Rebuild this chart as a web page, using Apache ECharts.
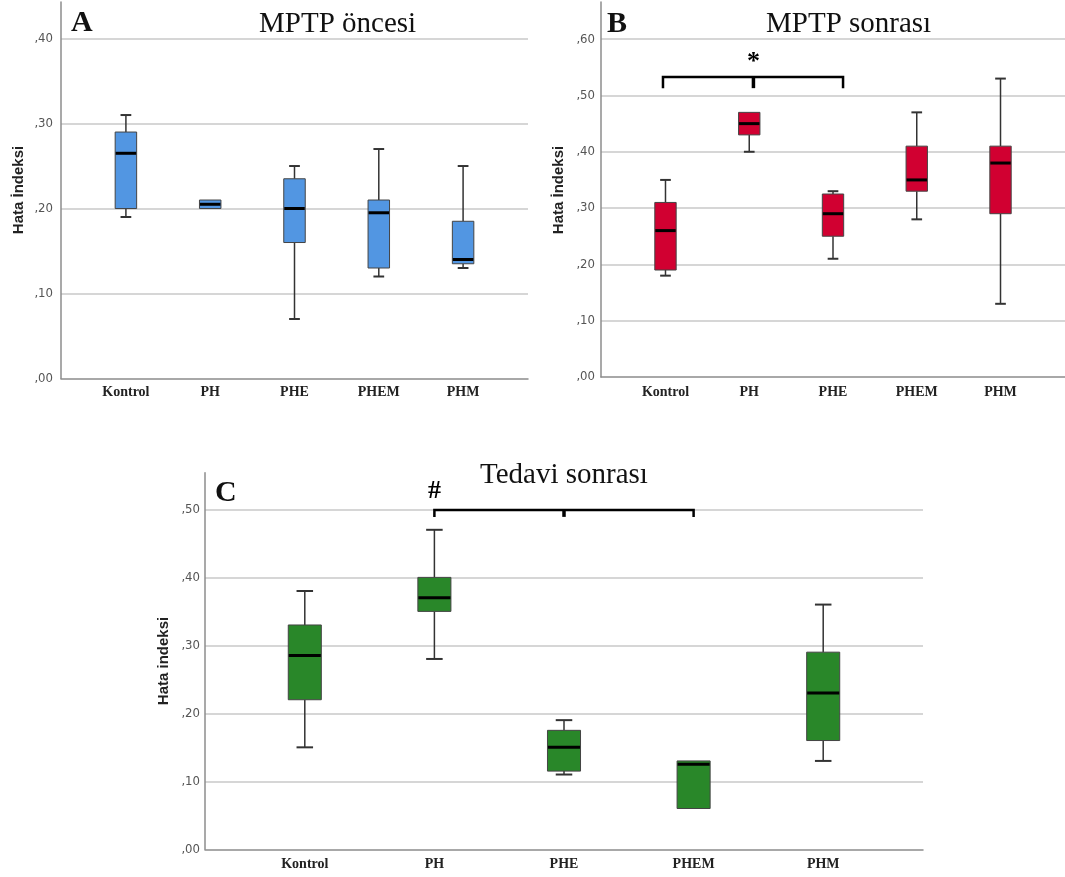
<!DOCTYPE html>
<html>
<head>
<meta charset="utf-8">
<title>Hata İndeksi</title>
<script src="https://cdn.jsdelivr.net/npm/echarts@6/dist/echarts.min.js"></script>
<style>
  html, body { margin: 0; padding: 0; background: #ffffff; }
  #chart { width: 1065px; height: 877px; }
</style>
</head>
<body>
<div id="chart"></div>
<script>
// Groups on the horizontal axis
const categories = ['Kontrol', 'PH', 'PHE', 'PHEM', 'PHM'];

// Box summaries per group: [min, Q1, median, Q3, max]
const mptpOncesi = [
  [0.19, 0.20, 0.265, 0.29, 0.31],
  [0.20, 0.20, 0.205, 0.21, 0.21],
  [0.07, 0.16, 0.20, 0.235, 0.25],
  [0.12, 0.13, 0.195, 0.21, 0.27],
  [0.13, 0.135, 0.14, 0.185, 0.25]
];
const mptpSonrasi = [
  [0.18, 0.19, 0.26, 0.31, 0.35],
  [0.40, 0.43, 0.45, 0.47, 0.47],
  [0.21, 0.25, 0.29, 0.325, 0.33],
  [0.28, 0.33, 0.35, 0.41, 0.47],
  [0.13, 0.29, 0.38, 0.41, 0.53]
];
const tedaviSonrasi = [
  [0.15, 0.22, 0.285, 0.33, 0.38],
  [0.28, 0.35, 0.37, 0.40, 0.47],
  [0.11, 0.115, 0.15, 0.175, 0.19],
  [0.06, 0.06, 0.125, 0.13, 0.13],
  [0.13, 0.16, 0.23, 0.29, 0.36]
];

// Y axis ranges and tick step
const yMaxA = 0.443;
const yMaxB = 0.666;
const yMaxC = 0.554;
const yStep = 0.1;

// Significance brackets: feet/centre x positions, [bar level, foot level], and the symbol
const sigBx = [-0.03, 1.05, 2.12];
const sigBy = [0.533, 0.513];
const sigBmark = ['*', 1.05, 0.559];
const sigCx = [1, 2, 3];
const sigCy = [0.499, 0.489];
const sigCmark = ['#', 1.0, 0.526];

const BOX_W = 0.255;
const SERIF = "'Liberation Serif', 'Times New Roman', serif";
const SANS = "'Liberation Sans', Arial, sans-serif";
const NARROW = "'Liberation Sans Narrow', 'Arial Narrow', 'DejaVu Sans Condensed', sans-serif";

function tickLabel(v) {
  if (Math.abs(v * 10 - Math.round(v * 10)) > 1e-6) return '';
  return ',' + v.toFixed(2).split('.')[1];
}

function makeAxes(idx, yMax, labelMargin, catMargin) {
  const xAxis = {
    type: 'value', gridIndex: idx, min: -0.77, max: 4.77,
    axisLine: { show: true, onZero: false, lineStyle: { color: '#8c8c8c', width: 1.5 } },
    axisTick: { show: false },
    splitLine: { show: false },
    axisLabel: {
      customValues: [0, 1, 2, 3, 4],
      formatter: v => categories[Math.round(v)],
      margin: catMargin,
      fontFamily: SERIF, fontWeight: 'bold', fontSize: 14, color: '#222'
    }
  };
  const yAxis = {
    type: 'value', gridIndex: idx, min: 0, max: yMax, interval: yStep,
    axisLine: { show: true, onZero: false, lineStyle: { color: '#8c8c8c', width: 1.5 } },
    axisTick: { show: false },
    splitLine: { show: true, showMinLine: false, showMaxLine: false,
                 lineStyle: { color: '#d6d6d6', width: 2 } },
    axisLabel: {
      formatter: tickLabel, showMaxLabel: false, margin: labelMargin,
      fontFamily: NARROW, fontSize: 13, color: '#555'
    }
  };
  return [xAxis, yAxis];
}

function boxData(rows) {
  return rows.map((r, i) => [i].concat(r));
}

function renderBox(color) {
  return function (params, api) {
    const x = api.value(0);
    const lo = api.coord([x, api.value(1)]);
    const q1 = api.coord([x, api.value(2)]);
    const md = api.coord([x, api.value(3)]);
    const q3 = api.coord([x, api.value(4)]);
    const hi = api.coord([x, api.value(5)]);
    const w = api.size([BOX_W, 0])[0];
    const cx = lo[0];
    const cap = w / 4;
    const wStyle = { stroke: '#333', lineWidth: 1.5 };
    const children = [];
    if (hi[1] < q3[1] - 0.5) {
      children.push({ type: 'line', shape: { x1: cx, y1: q3[1], x2: cx, y2: hi[1] }, style: wStyle });
      children.push({ type: 'line', shape: { x1: cx - cap, y1: hi[1], x2: cx + cap, y2: hi[1] }, style: { stroke: '#333', lineWidth: 2 } });
    }
    if (lo[1] > q1[1] + 0.5) {
      children.push({ type: 'line', shape: { x1: cx, y1: q1[1], x2: cx, y2: lo[1] }, style: wStyle });
      children.push({ type: 'line', shape: { x1: cx - cap, y1: lo[1], x2: cx + cap, y2: lo[1] }, style: { stroke: '#333', lineWidth: 2 } });
    }
    children.push({
      type: 'rect',
      shape: { x: cx - w / 2, y: q3[1], width: w, height: q1[1] - q3[1] },
      style: { fill: color, stroke: '#444', lineWidth: 1 }
    });
    children.push({
      type: 'line',
      shape: { x1: cx - w / 2 + 0.5, y1: md[1], x2: cx + w / 2 - 0.5, y2: md[1] },
      style: { stroke: '#000', lineWidth: 3 }
    });
    return { type: 'group', children: children };
  };
}

function renderBracket(markSize) {
  return function (params, api) {
    const yBar = api.value(3), yFoot = api.value(4);
    const l = api.coord([api.value(0), yBar]);
    const m = api.coord([api.value(1), yBar]);
    const r = api.coord([api.value(2), yBar]);
    const lf = api.coord([api.value(0), yFoot]);
    const mf = api.coord([api.value(1), yFoot]);
    const rf = api.coord([api.value(2), yFoot]);
    const mk = api.coord([api.value(6), api.value(7)]);
    const st = { stroke: '#000', lineWidth: 2.5, fill: null };
    return {
      type: 'group',
      children: [
        { type: 'polyline', shape: { points: [lf, l, r, rf] }, style: st },
        { type: 'line', shape: { x1: m[0], y1: m[1], x2: mf[0], y2: mf[1] }, style: { stroke: '#000', lineWidth: 3.5 } },
        { type: 'text', x: mk[0], y: mk[1],
          style: { text: api.value(5), fill: '#000', align: 'center', verticalAlign: 'middle',
                   font: 'bold ' + markSize + 'px ' + SERIF } }
      ]
    };
  };
}

const axA = makeAxes(0, yMaxA, 8, 7);
const axB = makeAxes(1, yMaxB, 6, 8);
const axC = makeAxes(2, yMaxC, 5, 8);

function titleText(text, x, y) {
  return { type: 'text', x: x, y: y, silent: true,
    style: { text: text, fill: '#111', align: 'left', verticalAlign: 'middle',
             font: '29px ' + SERIF } };
}
function letterText(text, x, y) {
  return { type: 'text', x: x, y: y, silent: true,
    style: { text: text, fill: '#111', align: 'left', verticalAlign: 'middle',
             font: 'bold 30px ' + SERIF } };
}
function axisName(text, x, y) {
  return { type: 'text', x: x, y: y, rotation: Math.PI / 2, silent: true,
    style: { text: text, fill: '#222', align: 'center', verticalAlign: 'middle',
             font: 'bold 15px ' + SANS } };
}

const option = {
  animation: false,
  backgroundColor: '#ffffff',
  grid: [
    { left: 61, top: 2, width: 467, height: 376.5 },
    { left: 601, top: 2, width: 465, height: 375 },
    { left: 205, top: 472.7, width: 718, height: 376.6 }
  ],
  xAxis: [axA[0], axB[0], axC[0]],
  yAxis: [axA[1], axB[1], axC[1]],
  series: [
    { type: 'custom', name: 'MPTP öncesi', xAxisIndex: 0, yAxisIndex: 0,
      renderItem: renderBox('#5296e2'), data: boxData(mptpOncesi),
      encode: { x: 0, y: [1, 2, 3, 4, 5] } },
    { type: 'custom', name: 'MPTP sonrası', xAxisIndex: 1, yAxisIndex: 1,
      renderItem: renderBox('#d10031'), data: boxData(mptpSonrasi),
      encode: { x: 0, y: [1, 2, 3, 4, 5] } },
    { type: 'custom', name: 'Tedavi sonrası', xAxisIndex: 2, yAxisIndex: 2,
      renderItem: renderBox('#298729'), data: boxData(tedaviSonrasi),
      encode: { x: 0, y: [1, 2, 3, 4, 5] } },
    { type: 'custom', xAxisIndex: 1, yAxisIndex: 1, silent: true,
      renderItem: renderBracket(26),
      data: [[sigBx[0], sigBx[1], sigBx[2], sigBy[0], sigBy[1], sigBmark[0], sigBmark[1], sigBmark[2]]],
      encode: { x: [0, 1, 2], y: [3, 4] } },
    { type: 'custom', xAxisIndex: 2, yAxisIndex: 2, silent: true,
      renderItem: renderBracket(26),
      data: [[sigCx[0], sigCx[1], sigCx[2], sigCy[0], sigCy[1], sigCmark[0], sigCmark[1], sigCmark[2]]],
      encode: { x: [0, 1, 2], y: [3, 4] } }
  ],
  graphic: [
    letterText('A', 71, 23.5),
    titleText('MPTP öncesi', 259, 24.5),
    axisName('Hata İndeksi', 19, 190),
    letterText('B', 607, 24),
    titleText('MPTP sonrası', 766, 24),
    axisName('Hata İndeksi', 559, 190),
    letterText('C', 215, 493),
    titleText('Tedavi sonrası', 480, 475),
    axisName('Hata indeksi', 164, 661)
  ]
};

const chart = echarts.init(document.getElementById('chart'), null, { renderer: 'canvas' });
chart.setOption(option);
</script>
</body>
</html>
